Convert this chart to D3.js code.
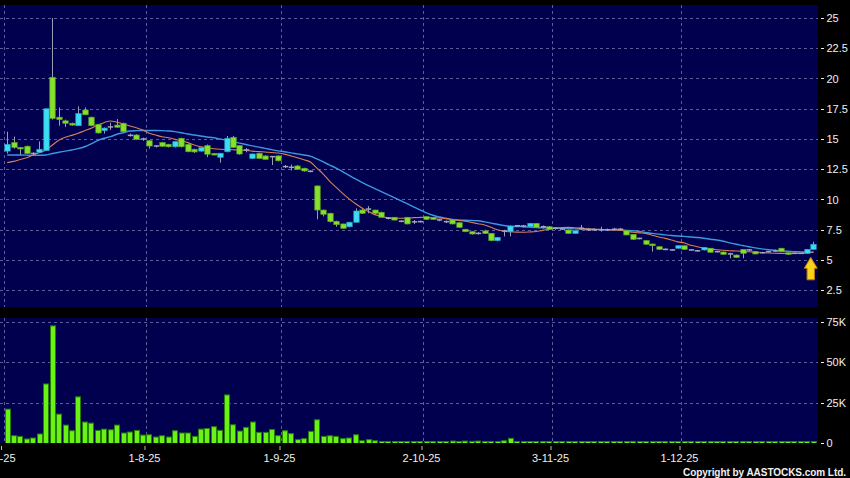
<!DOCTYPE html>
<html><head><meta charset="utf-8">
<script src="https://cdn.jsdelivr.net/npm/d3@7"></script>
<style>html,body{margin:0;padding:0;background:#000;overflow:hidden}svg{display:block}</style>
</head><body><svg id="c" width="850" height="478"></svg>
<script>
const dates = [
"2025-07-02","2025-07-03","2025-07-04","2025-07-07","2025-07-08","2025-07-09","2025-07-10","2025-07-11","2025-07-14","2025-07-15","2025-07-16","2025-07-17","2025-07-18","2025-07-21","2025-07-22","2025-07-23","2025-07-24","2025-07-25","2025-07-28","2025-07-29","2025-07-30","2025-07-31",
"2025-08-01","2025-08-04","2025-08-05","2025-08-06","2025-08-07","2025-08-08","2025-08-11","2025-08-12","2025-08-13","2025-08-14","2025-08-15","2025-08-18","2025-08-19","2025-08-20","2025-08-21","2025-08-22","2025-08-25","2025-08-26","2025-08-27","2025-08-28","2025-08-29",
"2025-09-01","2025-09-02","2025-09-03","2025-09-04","2025-09-05","2025-09-08","2025-09-09","2025-09-10","2025-09-11","2025-09-12","2025-09-15","2025-09-16","2025-09-17","2025-09-18","2025-09-19","2025-09-22","2025-09-23","2025-09-24","2025-09-25","2025-09-26","2025-09-29","2025-09-30",
"2025-10-02","2025-10-03","2025-10-06","2025-10-08","2025-10-09","2025-10-10","2025-10-13","2025-10-14","2025-10-15","2025-10-16","2025-10-17","2025-10-20","2025-10-21","2025-10-22","2025-10-23","2025-10-24","2025-10-27","2025-10-28","2025-10-30","2025-10-31",
"2025-11-03","2025-11-04","2025-11-05","2025-11-06","2025-11-07","2025-11-10","2025-11-11","2025-11-12","2025-11-13","2025-11-14","2025-11-17","2025-11-18","2025-11-19","2025-11-20","2025-11-21","2025-11-24","2025-11-25","2025-11-26","2025-11-27","2025-11-28",
"2025-12-01","2025-12-02","2025-12-03","2025-12-04","2025-12-05","2025-12-08","2025-12-09","2025-12-10","2025-12-11","2025-12-12","2025-12-15","2025-12-16","2025-12-17","2025-12-18","2025-12-19","2025-12-22","2025-12-23","2025-12-24","2025-12-29","2025-12-30","2025-12-31"];

const open = [14.0,14.7,14.3,14.4,13.8,13.9,14.05,20.1,16.8,16.5,
16.3,16.1,17.4,16.8,16.2,15.7,16.0,16.15,16.3,15.3,
15.33,15.0,14.86,14.42,14.7,14.56,14.36,15.06,14.56,14.15,
14.0,14.45,13.8,13.49,13.95,15.14,14.45,14.1,13.4,13.82,
13.6,13.54,13.6,12.72,12.66,12.77,12.58,12.33,11.12,9.13,
8.86,8.2,7.98,7.75,8.12,9.13,9.21,9.13,8.94,8.45,
8.53,8.2,8.53,8.15,8.17,8.58,8.5,8.31,8.17,8.31,
8.08,7.54,7.34,7.2,7.4,7.2,6.6,7.4,7.34,7.83,
7.81,7.75,8.03,7.75,7.75,7.62,7.56,7.48,7.2,7.62,
7.5,7.5,7.5,7.5,7.54,7.54,7.42,7.12,6.78,6.6,
6.32,6.1,5.88,5.83,5.97,6.18,5.83,5.76,5.83,5.97,
5.69,5.66,5.5,5.41,5.88,5.83,5.69,5.6,5.69,5.75,
5.97,5.6,5.55,5.55,5.55,5.88];
const high = [15.6,15.2,14.35,14.45,13.9,14.8,17.5,25.0,17.6,16.6,
16.35,17.7,17.6,16.85,16.25,15.95,16.35,16.65,16.35,15.45,
15.4,15.1,14.9,14.5,14.75,14.6,14.8,15.1,14.6,14.2,
14.3,14.55,13.85,13.85,15.25,15.25,14.5,14.25,13.8,13.85,
13.65,13.6,13.65,12.85,12.9,12.85,12.62,12.4,11.15,9.15,
8.9,8.25,8.0,8.15,9.27,9.2,9.45,9.15,9.0,8.55,
8.55,8.28,8.55,8.3,8.25,8.6,8.52,8.38,8.25,8.35,
8.1,7.56,7.38,7.3,7.5,7.22,6.9,7.5,7.85,7.9,
7.9,8.05,8.05,7.85,7.78,7.7,7.65,7.5,7.45,7.9,
7.65,7.6,7.75,7.6,7.65,7.65,7.45,7.15,6.85,6.62,
6.35,6.12,5.95,5.9,6.2,6.2,5.9,5.83,6.05,6.0,
5.75,5.7,5.6,5.45,5.9,5.9,5.72,5.68,5.75,5.85,
6.0,5.62,5.62,5.62,5.9,6.51];
const low = [13.8,14.2,13.7,13.75,13.7,13.85,14.0,16.6,16.1,16.0,
16.1,16.1,17.0,16.05,15.45,15.45,15.75,15.95,15.55,15.2,
14.95,14.85,14.2,14.3,14.35,14.3,14.3,14.3,13.9,13.85,
13.95,13.5,13.65,13.04,13.9,14.25,13.7,13.9,13.35,13.35,
13.3,12.85,13.15,12.6,12.4,12.45,12.3,12.25,8.36,8.6,
8.1,7.75,7.6,7.7,8.1,8.8,8.86,8.8,8.5,8.35,
8.28,8.12,7.95,7.98,8.1,8.3,8.3,8.2,8.05,7.95,
7.65,7.3,7.1,7.1,7.15,6.55,6.55,6.95,6.95,7.75,
7.7,7.7,7.65,7.6,7.5,7.5,7.5,7.15,7.18,7.48,
7.4,7.4,7.35,7.4,7.45,7.45,7.05,6.65,6.7,6.25,
5.69,5.85,5.8,5.78,5.95,5.85,5.78,5.69,5.8,5.6,
5.62,5.45,5.14,5.2,5.14,5.75,5.48,5.55,5.62,5.66,
5.66,5.45,5.5,5.5,5.52,5.85];
const close = [14.55,14.3,14.2,13.8,13.8,14.15,17.5,16.7,16.6,16.3,
16.15,17.1,17.0,16.1,15.5,15.9,16.0,15.97,15.6,15.3,
14.97,15.0,14.42,14.42,14.4,14.36,14.78,14.36,13.95,13.93,
14.28,13.74,13.7,13.82,15.06,14.31,13.76,14.1,13.76,13.4,
13.32,13.54,13.2,12.72,12.66,12.5,12.36,12.33,9.13,8.78,
8.17,7.92,7.62,8.12,9.05,8.86,9.21,8.86,8.53,8.45,
8.3,8.2,7.98,8.15,8.17,8.36,8.36,8.31,8.17,7.98,
7.7,7.34,7.15,7.2,7.2,6.6,6.87,7.4,7.81,7.83,
7.81,8.03,7.7,7.75,7.54,7.62,7.56,7.2,7.42,7.62,
7.5,7.5,7.5,7.5,7.54,7.54,7.07,6.71,6.78,6.3,
6.18,5.88,5.88,5.83,6.18,5.88,5.83,5.76,6.02,5.64,
5.69,5.47,5.5,5.22,5.55,5.83,5.5,5.6,5.69,5.75,
5.69,5.47,5.55,5.55,5.88,6.3];
// volume in thousands of shares
const volume = [21,4.5,4.1,2.5,3.1,5.6,36.6,72.6,17.9,11.1,
7.6,28.6,13,12.3,7.8,8.6,8.2,11.1,6.2,6.8,
7.8,4.9,5.1,3.7,4.5,3.7,7.6,6.2,6.2,4.1,
8.6,9,10.1,7.8,29.8,11.3,7.4,9.7,13,6.6,
6.6,8.4,4.5,7.6,5.8,2.1,2.7,7.2,14.4,4.1,
4.5,4.1,2.7,3.1,5.1,1.4,2.1,1.4,0.6,0.6,
0.4,0.6,0.6,0.2,0.4,0.6,0.2,0.2,0.2,1.2,
0.8,1.2,1.0,1.2,0.2,0.8,0.2,1.4,2.9,0.8,
0.2,0.6,0.2,0.2,0.2,0.2,0.2,0.6,0.2,0.2,
0.8,0.2,0.2,0.4,0.2,0.2,0.3,1.0,0.2,0.2,
0.8,0.8,0.2,0.2,0.2,0.2,0.2,0.2,0.2,0.8,
0.2,0.2,0.2,0.2,0.2,0.2,0.2,0.2,0.2,0.2,
0.2,0.2,0.2,0.6,0.6,0.8];
const ma10 = [13.05,13.15,13.3,13.45,13.68,13.88,14.09,14.5,14.9,15.14,
15.3,15.47,15.69,15.88,16.16,16.35,16.49,16.38,16.24,16.07,
15.93,15.74,15.47,15.33,15.19,15.11,14.97,14.86,14.7,14.5,
14.36,14.28,14.2,14.15,14.13,14.11,14.09,14.05,14.0,13.96,
13.93,13.88,13.84,13.75,13.6,13.45,13.28,13.1,12.6,12.1,
11.5,11.0,10.5,10.05,9.65,9.3,9.0,8.75,8.6,8.5,
8.45,8.45,8.45,8.5,8.52,8.53,8.5,8.47,8.42,8.35,
8.27,8.2,8.1,8.0,7.9,7.7,7.5,7.38,7.33,7.3,
7.29,7.32,7.36,7.45,7.54,7.62,7.68,7.7,7.66,7.62,
7.58,7.55,7.53,7.5,7.48,7.46,7.38,7.29,7.24,7.2,
7.05,6.9,6.79,6.65,6.5,6.4,6.22,6.1,6.0,5.92,
5.85,5.8,5.77,5.74,5.71,5.68,5.65,5.62,5.58,5.56,
5.55,5.55,5.55,5.55,5.6,5.65];
const ma20 = [13.68,13.68,13.68,13.67,13.65,13.66,13.68,13.8,13.9,14.0,
14.09,14.2,14.36,14.59,14.86,15.06,15.19,15.39,15.52,15.66,
15.69,15.7,15.7,15.7,15.69,15.66,15.61,15.52,15.41,15.33,
15.25,15.17,15.1,15.0,14.9,14.78,14.66,14.55,14.43,14.33,
14.22,14.12,14.02,13.95,13.85,13.77,13.68,13.58,13.35,13.1,
12.85,12.6,12.3,12.0,11.7,11.42,11.15,10.9,10.65,10.4,
10.15,9.9,9.65,9.4,9.15,8.9,8.7,8.55,8.45,8.35,
8.3,8.28,8.26,8.24,8.15,8.05,7.95,7.85,7.78,7.76,
7.75,7.72,7.69,7.67,7.66,7.64,7.62,7.6,7.57,7.55,
7.53,7.52,7.5,7.5,7.5,7.48,7.45,7.42,7.36,7.28,
7.2,7.14,7.08,7.02,6.98,6.95,6.9,6.86,6.8,6.72,
6.65,6.55,6.42,6.3,6.2,6.1,6.0,5.92,5.85,5.8,
5.76,5.72,5.69,5.67,5.65,5.64];

const priceTicks = [2.5,5,7.5,10,12.5,15,17.5,20,22.5,25];
const priceTickLabels = ["2.5","5","7.5","10","12.5","15","17.5","20","22.5","25"];
const volumeTicks = [0,25,50,75];
const volumeTickLabels = ["0","25K","50K","75K"];
const xTickDates = ["2025-07-02","2025-08-01","2025-09-01","2025-10-02","2025-11-03","2025-12-01"];
const xTickLabels = ["2-7-25","1-8-25","1-9-25","2-10-25","3-11-25","1-12-25"];
const markerIndex = 124;

const svg = d3.select("#c");
const W = 850, H = 478;
const panelL = 0, panelR = 818;
const pTop = 5, pBot = 307, vTop = 318, vBot = 443;
const navy = "#00004e";
const gridCol = "#5c5c98";
const textCol = "#f0f0f0";
const font = "'Liberation Sans', Arial, sans-serif";

svg.append("rect").attr("width", W).attr("height", H).attr("fill", "#000");

const x = d3.scaleBand().domain(dates).range([4, 4 + dates.length * 6.45]).paddingInner(0.15).paddingOuter(0.075);
const step = x.step();
const cx = d => x(d) + x.bandwidth() / 2;
const bodyW = 5.4;
const yP = d3.scaleLinear().domain([0, 25]).range([320.5, 18]);
const yV = d3.scaleLinear().domain([0, 75]).range([vBot, 322]);

// panels
svg.append("rect").attr("x", panelL).attr("y", pTop).attr("width", panelR - panelL).attr("height", pBot - pTop).attr("fill", navy);
svg.append("rect").attr("x", panelL).attr("y", vTop).attr("width", panelR - panelL).attr("height", vBot - vTop).attr("fill", navy);

const defs = svg.append("defs");
defs.append("clipPath").attr("id", "pclip").append("rect").attr("x", panelL).attr("y", pTop).attr("width", panelR - panelL).attr("height", pBot - pTop);
defs.append("clipPath").attr("id", "vclip").append("rect").attr("x", panelL).attr("y", vTop).attr("width", panelR - panelL).attr("height", vBot - vTop);

// horizontal grid
const grid = svg.append("g").attr("stroke", gridCol).attr("stroke-width", 1).attr("stroke-dasharray", "3,3").attr("shape-rendering", "crispEdges");
priceTicks.forEach(t => {
  grid.append("line").attr("x1", panelL).attr("x2", panelR).attr("y1", Math.round(yP(t)) + 0.5).attr("y2", Math.round(yP(t)) + 0.5);
});
volumeTicks.filter(t => t > 0).forEach(t => {
  grid.append("line").attr("x1", panelL).attr("x2", panelR).attr("y1", Math.round(yV(t)) + 0.5).attr("y2", Math.round(yV(t)) + 0.5);
});
// vertical grid at month starts
const monthX = d => Math.round(x(d) - (step - x.bandwidth()) / 2) + 0.5;
xTickDates.forEach(d => {
  const xx = monthX(d);
  grid.append("line").attr("x1", xx).attr("x2", xx).attr("y1", pTop).attr("y2", pBot);
  grid.append("line").attr("x1", xx).attr("x2", xx).attr("y1", vTop).attr("y2", vBot);
});

// right axes
const axG = svg.append("g").attr("font-family", font).attr("font-size", 11).attr("fill", textCol);
priceTicks.forEach((t, i) => {
  const yy = yP(t);
  axG.append("line").attr("x1", 821).attr("x2", 824).attr("y1", Math.round(yy) + 0.5).attr("y2", Math.round(yy) + 0.5).attr("stroke", textCol).attr("stroke-width", 1);
  axG.append("text").attr("x", 826.5).attr("y", yy + 4).text(priceTickLabels[i]);
});
volumeTicks.forEach((t, i) => {
  const yy = yV(t);
  axG.append("line").attr("x1", 821).attr("x2", 824).attr("y1", Math.round(yy) + 0.5).attr("y2", Math.round(yy) + 0.5).attr("stroke", textCol).attr("stroke-width", 1);
  axG.append("text").attr("x", 826.5).attr("y", yy + 4).text(volumeTickLabels[i]);
});
// bottom date axis (first label is clipped at the left edge, as in the source)
xTickDates.forEach((d, i) => {
  const xx = i === 0 ? 1.5 : monthX(d) - 1.5;
  axG.append("line").attr("x1", xx).attr("x2", xx).attr("y1", 446).attr("y2", 450).attr("stroke", "#bbbbbb").attr("stroke-width", 1);
  const t = axG.append("text").attr("y", 462).text(xTickLabels[i]);
  if (i === 0) t.attr("x", 15.5).attr("text-anchor", "end");
  else t.attr("x", xx - 0.5).attr("text-anchor", "middle");
});

// volume bars
const vg = svg.append("g").attr("clip-path", "url(#vclip)");
vg.selectAll("rect").data(dates).join("rect")
  .attr("x", d => Math.round(cx(d) - bodyW / 2) + 0.5)
  .attr("width", 5)
  .attr("y", (d, i) => Math.min(yV(volume[i]), vBot - 1.5))
  .attr("height", (d, i) => vBot - Math.min(yV(volume[i]), vBot - 1.5) + 1)
  .attr("fill", "#6af214").attr("stroke", "#237c0c").attr("stroke-width", 1);

// MA lines
const pg = svg.append("g").attr("clip-path", "url(#pclip)");
const lineGen = arr => d3.line().x((d, i) => cx(dates[i])).y(d => yP(d)).curve(d3.curveMonotoneX)(arr);
pg.append("path").attr("d", lineGen(ma20)).attr("fill", "none").attr("stroke", "#3f9fe6").attr("stroke-width", 1.4).attr("opacity", 0.95);
pg.append("path").attr("d", lineGen(ma10)).attr("fill", "none").attr("stroke", "#dc7e55").attr("stroke-width", 1.1);

// candles
const cg = pg.append("g");
dates.forEach((d, i) => {
  const xc = Math.round(cx(d)) + 0.5;
  const o = open[i], c = close[i];
  cg.append("line").attr("x1", xc).attr("x2", xc).attr("y1", yP(high[i])).attr("y2", yP(low[i])).attr("stroke", "#9a9cb4").attr("stroke-width", 1);
  if (o === c) {
    cg.append("rect").attr("x", xc - bodyW / 2).attr("width", bodyW).attr("y", yP(c) - 0.75).attr("height", 1.5).attr("fill", "#a4a6bc");
  } else {
    const up = c > o;
    const top = yP(Math.max(o, c)), bot = yP(Math.min(o, c));
    cg.append("rect").attr("x", xc - bodyW / 2).attr("width", bodyW)
      .attr("y", top).attr("height", Math.max(1.5, bot - top))
      .attr("fill", up ? "#3cdcf2" : "#86e02c")
      .attr("stroke", up ? "#2aa6c0" : "#5aa81c").attr("stroke-width", 0.7);
  }
});

// marker arrow under latest bars
const ax = x(dates[markerIndex]) + step - (step - x.bandwidth()) / 2 + 0.5;
const ay = yP(low[markerIndex]) + 3.6;
const arrow = `M${ax},${ay} L${ax + 6.5},${ay + 11} L${ax + 3.7},${ay + 11} L${ax + 3.7},${ay + 22.5} L${ax - 3.7},${ay + 22.5} L${ax - 3.7},${ay + 11} L${ax - 6.5},${ay + 11} Z`;
svg.append("path").attr("d", arrow).attr("fill", "#f9d21c").attr("stroke", "#b87a00").attr("stroke-width", 1);

// copyright
svg.append("text").attr("x", 846).attr("y", 475.5).attr("text-anchor", "end")
  .attr("font-family", font).attr("font-size", 10).attr("font-weight", "bold").attr("fill", textCol)
  .attr("textLength", 163).attr("lengthAdjust", "spacing")
  .text("Copyright by AASTOCKS.com Ltd.");
</script>
</body></html>
